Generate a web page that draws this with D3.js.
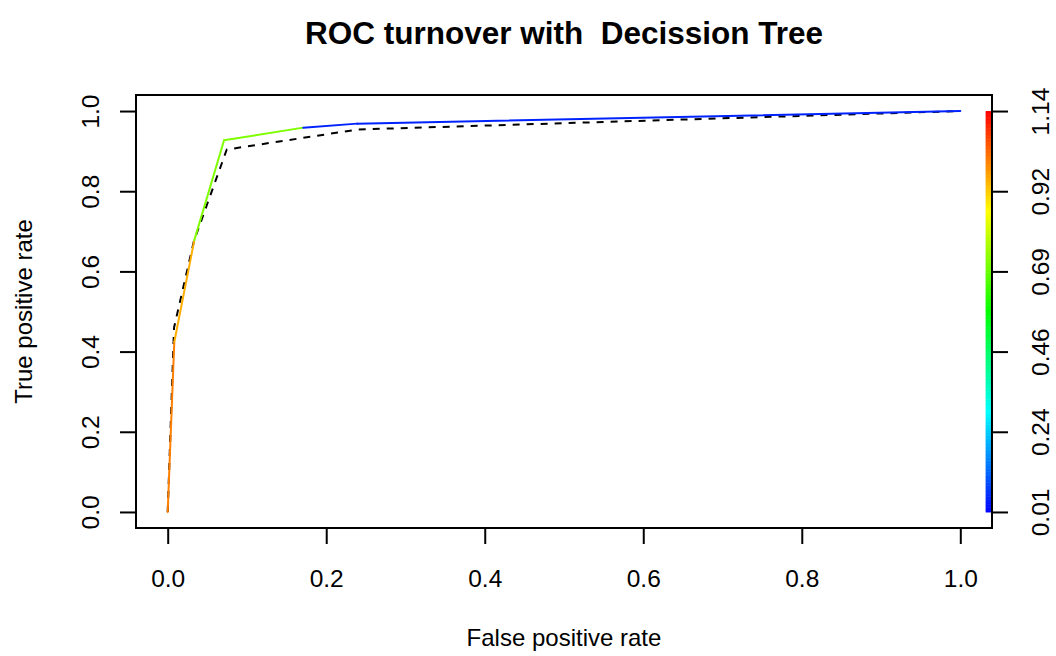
<!DOCTYPE html>
<html>
<head>
<meta charset="utf-8">
<script src="https://cdn.jsdelivr.net/npm/d3@7"></script>
<style>
body { margin: 0; background: #fff; }
text { font-family: "Liberation Sans", Arial, sans-serif; fill: #000; }
</style>
</head>
<body>
<svg id="chart" width="1056" height="656"></svg>
<script>
// ROC points of the decision tree (colour by cutoff)
var fpr = [0, 0.0083, 0.0336, 0.0711, 0.171, 0.239, 1];
var tpr = [0, 0.424, 0.678, 0.927, 0.9586, 0.9686, 1];
// cutoff used to colour each segment
var seg_cutoff = [0.999, 0.947, 0.716, 0.716, 0.048, 0.048];

// second curve, drawn dashed
var fpr2 = [0, 0.008, 0.033, 0.0745, 0.24, 1];
var tpr2 = [0, 0.46, 0.675, 0.904, 0.954, 1];

var x_ticks = [0, 0.2, 0.4, 0.6, 0.8, 1];
var y_ticks = [0, 0.2, 0.4, 0.6, 0.8, 1];
var cut_labels = ["0.01", "0.24", "0.46", "0.69", "0.92", "1.14"];
var cut_range = [0.01, 1.14];

var svg = d3.select("#chart");

var x = d3.scaleLinear().domain([-0.04, 1.04]).range([136, 992]);
var y = d3.scaleLinear().domain([-0.04, 1.04]).range([528, 95]);

// rainbow: blue for low cutoffs, red for high ones
var hue = d3.scaleLinear().domain(cut_range).range([240, 0]);
var color = function(c){
    return d3.hsl(hue(c), 1, 0.5).toString();
}

// colour bar on the right edge of the plot
var nbar = 256;
var bar = d3.range(nbar);
svg.append("g").selectAll("rect")
    .data(bar)
    .enter().append("rect")
    .attr("x", x(1.032))
    .attr("width", x(1.04) - x(1.032))
    .attr("y", function(d){ return y((d + 1) / nbar); })
    .attr("height", function(d){ return y(d / nbar) - y((d + 1) / nbar) + 0.5; })
    .attr("fill", function(d){
	return color(cut_range[0] + (d + 0.5) / nbar * (cut_range[1] - cut_range[0]));
    });

// dashed curve
var line = d3.line()
    .x(function(d){ return x(d[0]); })
    .y(function(d){ return y(d[1]); });

svg.append("path")
    .datum(d3.zip(fpr2, tpr2))
    .attr("d", line)
    .attr("fill", "none")
    .attr("stroke", "#000")
    .attr("stroke-width", 2)
    .attr("stroke-dasharray", "7,7");

// coloured roc curve, one segment at a time
var segs = d3.range(fpr.length - 1);
svg.append("g").selectAll("line")
    .data(segs)
    .enter().append("line")
    .attr("x1", function(i){ return x(fpr[i]); })
    .attr("y1", function(i){ return y(tpr[i]); })
    .attr("x2", function(i){ return x(fpr[i + 1]); })
    .attr("y2", function(i){ return y(tpr[i + 1]); })
    .attr("stroke", function(i){ return color(seg_cutoff[i]); })
    .attr("stroke-width", 2)
    .attr("stroke-linecap", "round");

// axes
var fmt = d3.format(".1f");

var gx = svg.append("g")
    .attr("transform", "translate(0,528)")
    .call(d3.axisBottom(x).tickValues(x_ticks).tickFormat(fmt)
	  .tickSize(16).tickPadding(26));

var gy = svg.append("g")
    .attr("transform", "translate(136,0)")
    .call(d3.axisLeft(y).tickValues(y_ticks).tickFormat(fmt).tickSize(16));

var gr = svg.append("g")
    .attr("transform", "translate(992,0)")
    .call(d3.axisRight(y).tickValues(y_ticks)
	  .tickFormat(function(d, i){ return cut_labels[i]; })
	  .tickSize(16));

[gx, gy, gr].forEach(function(g){
    g.select(".domain").remove();
    g.selectAll(".tick line").attr("stroke", "#000").attr("stroke-width", 2);
    g.selectAll(".tick text").attr("font-size", 24.5).attr("font-family", null);
});

gx.selectAll(".tick text").attr("dy", "0.71em");

gy.selectAll(".tick text")
    .attr("x", null).attr("dy", null)
    .attr("text-anchor", "middle")
    .attr("transform", "translate(-37,0) rotate(-90)");

gr.selectAll(".tick text")
    .attr("x", null).attr("dy", null)
    .attr("text-anchor", "middle")
    .attr("transform", "translate(57,0) rotate(-90)");

// box
svg.append("rect")
    .attr("x", 136).attr("y", 95)
    .attr("width", 992 - 136).attr("height", 528 - 95)
    .attr("fill", "none")
    .attr("stroke", "#000")
    .attr("stroke-width", 2);

// titles
svg.append("text")
    .attr("x", 564).attr("y", 44)
    .attr("text-anchor", "middle")
    .attr("font-size", 31.5)
    .attr("font-weight", "bold")
    .style("white-space", "pre")
    .text("ROC turnover with  Decission Tree");

svg.append("text")
    .attr("x", 564).attr("y", 646)
    .attr("text-anchor", "middle")
    .attr("font-size", 24)
    .text("False positive rate");

svg.append("text")
    .attr("transform", "translate(32,311.5) rotate(-90)")
    .attr("text-anchor", "middle")
    .attr("font-size", 24)
    .text("True positive rate");
</script>
</body>
</html>
